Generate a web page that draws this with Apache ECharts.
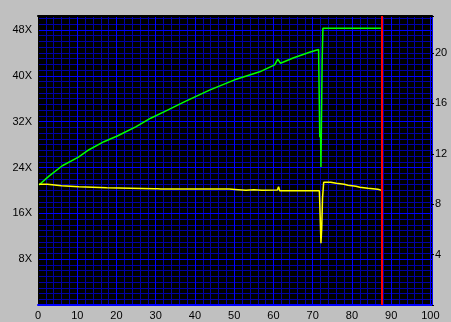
<!DOCTYPE html>
<html>
<head>
<meta charset="utf-8">
<script src="https://cdn.jsdelivr.net/npm/echarts@6/dist/echarts.min.js"></script>
<style>
html,body{margin:0;padding:0;background:#c0c0c0;}
#c{width:451px;height:322px;}
</style>
</head>
<body>
<div id="c"></div>
<script>
// Read speed (X) vs. position, left axis
const speedPoints = [
  [0.25,20.95],[2.8,22.5],[6.2,24.3],[10.3,25.8],[13.0,27.1],[16.8,28.5],[20.2,29.5],
  [24.9,31.1],[28.7,32.6],[32.1,33.7],[37.4,35.5],[43.7,37.5],[50.1,39.3],[56.5,40.7],
  [60.3,41.9],[61.1,42.9],[61.8,42.2],[65.0,43.1],[69.2,44.1],[71.5,44.6],
  [71.6,39.4],[71.8,29.3],[72.0,30.0],[72.1,24.1],[72.2,30.1],[72.4,42.2],[72.6,48.3],
  [76.2,48.3],[76.4,48.1],[76.6,48.3],[86.0,48.3],[86.2,48.1],[86.4,48.3],[87.6,48.3]
];
// Rotation (x1000 RPM), right axis
const rpmPoints = [
  [0.25,9.58],[2.4,9.58],[2.4,9.47],[6.0,9.47],[6.0,9.39],[10.4,9.39],[10.4,9.31],
  [17.5,9.31],[17.5,9.23],[29.6,9.23],[30.0,9.15],[30.5,9.23],[31.0,9.15],[31.3,9.21],
  [48.7,9.21],[49.0,9.12],[51.0,9.15],[53.0,9.1],[55.0,9.15],[57.0,9.1],[61.0,9.12],
  [61.3,9.39],[61.6,9.07],[71.7,9.07],[71.8,8.07],[72.0,6.0],[72.1,4.9],[72.3,6.1],
  [72.5,8.47],[72.8,9.74],[74.6,9.74],[74.6,9.66],[76.0,9.66],[76.0,9.58],[78.0,9.58],
  [78.0,9.5],[79.0,9.5],[79.0,9.42],[81.0,9.42],[81.0,9.34],[82.0,9.34],[82.0,9.26],
  [84.1,9.26],[84.1,9.18],[86.6,9.18],[86.6,9.10],[87.6,9.10]
];
const markerPosition = 87.6;
const xTicks = [0,10,20,30,40,50,60,70,80,90,100];
const leftTicks = [8,16,24,32,40,48];
const rightTicks = [4,8,12,16,20];

const X_MAX = 100.4, L_MAX = 50.44, R_MAX = 22.94;
const BLUE = '#0000ff', DARK = '#0000a8';
const lblFont = {color:'#000', fontFamily:'Liberation Sans, Arial, sans-serif', fontSize:11};

const chart = echarts.init(document.getElementById('c'), null, {renderer:'canvas'});
chart.setOption({
  animation:false,
  backgroundColor:'#c0c0c0',
  grid:{left:38, top:16, width:394, height:289, show:true, backgroundColor:'#000', borderWidth:0},
  xAxis:[
    {type:'value', position:'bottom', min:0, max:X_MAX, interval:10, z:1,
     axisLine:{show:true, onZero:false, lineStyle:{color:BLUE, width:2}},
     axisTick:{show:false},
     axisLabel:Object.assign({margin:5, formatter:v => xTicks.includes(v) ? String(v) : ''}, lblFont),
     splitLine:{show:true, showMinLine:true, showMaxLine:false, lineStyle:{color:BLUE, width:1}}},
    {type:'value', position:'top', min:0, max:X_MAX, interval:2, z:0,
     axisLine:{show:false, onZero:false}, axisTick:{show:false}, axisLabel:{show:false},
     splitLine:{show:true, showMinLine:false, showMaxLine:false, lineStyle:{color:DARK, width:1}}},
    {type:'value', position:'top', min:0, max:X_MAX, interval:10, z:3,
     axisLine:{show:true, onZero:false, lineStyle:{color:'#000', width:2}},
     axisTick:{show:false}, axisLabel:{show:false}, splitLine:{show:false}}
  ],
  yAxis:[
    {type:'value', position:'left', min:0, max:L_MAX, interval:8, z:1,
     axisLine:{show:true, onZero:false, lineStyle:{color:'#000', width:1}},
     axisTick:{show:false},
     axisLabel:Object.assign({margin:6, formatter:v => leftTicks.includes(v) ? v + 'X' : ''}, lblFont),
     splitLine:{show:true, showMinLine:false, showMaxLine:false, lineStyle:{color:BLUE, width:1}}},
    {type:'value', position:'right', min:0, max:R_MAX, interval:4, z:1,
     axisLine:{show:true, onZero:false, lineStyle:{color:BLUE, width:1}},
     axisTick:{show:true, length:2, lineStyle:{color:'#000'}},
     axisLabel:Object.assign({margin:3, formatter:v => rightTicks.includes(v) ? String(v) : ''}, lblFont),
     splitLine:{show:false}},
    {type:'value', position:'left', min:0, max:L_MAX, interval:1, z:0,
     axisLine:{show:false, onZero:false}, axisTick:{show:false}, axisLabel:{show:false},
     splitLine:{show:true, showMinLine:false, showMaxLine:false, lineStyle:{color:DARK, width:1}}}
  ],
  series:[
    {type:'line', name:'Speed', xAxisIndex:0, yAxisIndex:0, data:speedPoints,
     showSymbol:false, symbol:'none', z:2, lineStyle:{color:'#00ff00', width:1.5}},
    {type:'line', name:'RPM', xAxisIndex:0, yAxisIndex:1, data:rpmPoints,
     showSymbol:false, symbol:'none', z:2, lineStyle:{color:'#ffff00', width:1.5},
     markLine:{silent:true, symbol:['none','none'], label:{show:false}, animation:false,
       lineStyle:{color:'#ff0000', width:2, type:'solid'}, data:[{xAxis:markerPosition}]}}
  ]
});
</script>
</body>
</html>
